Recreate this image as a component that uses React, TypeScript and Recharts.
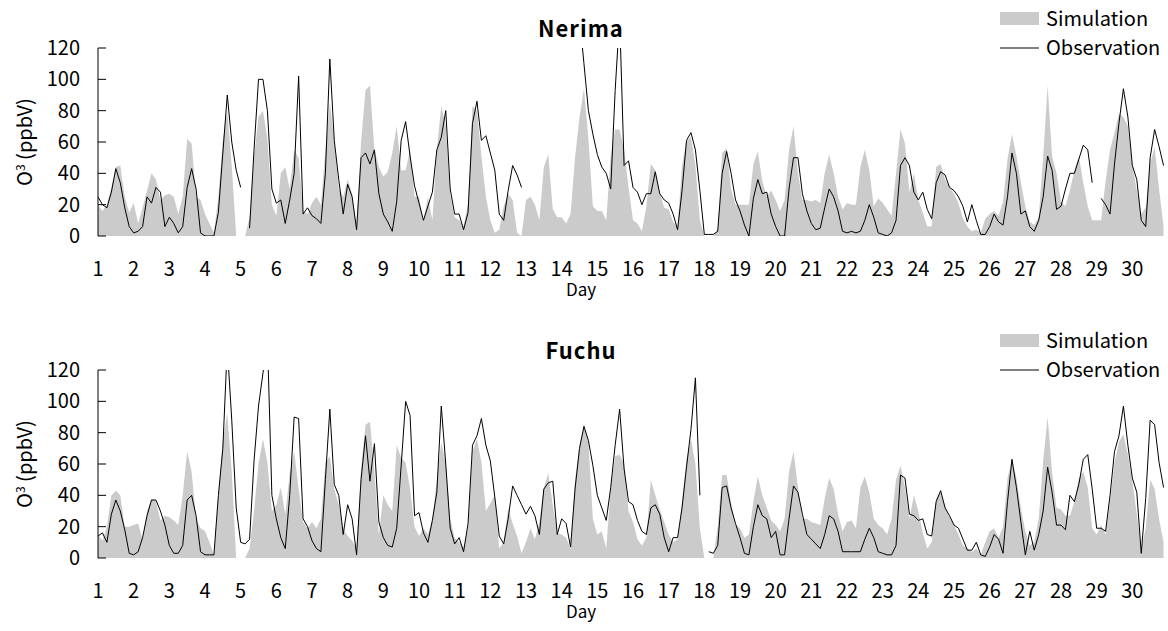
import { Area, ComposedChart, Legend, Line, XAxis, YAxis } from "recharts";

const FONT = '"Noto Sans CJK JP", "Noto Sans", sans-serif';
const SIM_FILL = "#cbcbcb";
const STEP_HOURS = 3; // one value every 3 hours, 8 per day

const days = [1, 2, 3, 4, 5, 6, 7, 8, 9, 10, 11, 12, 13, 14, 15, 16, 17, 18, 19, 20, 21, 22, 23, 24, 25, 26, 27, 28, 29, 30];
const yTicks = [0, 20, 40, 60, 80, 100, 120];
const legendOrder = ["sim", "obs"];

// Nerima, simulated O3 (ppbV)
const nerimaSim = [
  20, 16, 20, 31, 44, 45, 25, 15, // 1
  21, 8, 18, 29, 40, 36, 23, 26,
  27, 25, 14, 25, 62, 59, 25, 23,
  14, 8, 2, 25, 61, 80, 45, 0,
  0, 0, 12, 50, 76, 80, 62, 20, // 5
  13, 40, 44, 30, 55, 50, 16, 14,
  21, 25, 20, 55, 85, 61, 30, 25,
  36, 27, 6, 60, 93, 96, 55, 44,
  38, 41, 53, 70, 42, 42, 55, 25,
  25, 10, 25, 10, 55, 83, 70, 26, // 10
  12, 10, 6, 21, 83, 80, 51, 25,
  10, 2, 4, 19, 27, 23, 2, 0,
  23, 25, 20, 10, 44, 52, 17, 12,
  12, 8, 14, 50, 76, 94, 62, 19,
  16, 16, 10, 51, 68, 68, 55, 31, // 15
  10, 8, 3, 19, 46, 42, 28, 18,
  17, 9, 6, 45, 61, 63, 45, 10,
  0, 0, 0, 4, 53, 56, 30, 20,
  20, 20, 20, 46, 54, 35, 25, 29,
  23, 16, 23, 55, 70, 40, 23, 23, // 20
  22, 23, 21, 40, 52, 40, 25, 17,
  21, 20, 20, 44, 55, 42, 19, 24,
  21, 17, 13, 40, 68, 59, 28, 40,
  23, 15, 6, 6, 44, 46, 36, 31,
  27, 21, 11, 6, 3, 4, 2, 11, // 25
  14, 16, 13, 22, 49, 65, 51, 34,
  19, 9, 7, 12, 50, 96, 51, 40,
  22, 19, 29, 42, 51, 34, 19, 10,
  10, 10, 35, 55, 66, 78, 76, 70,
  45, 29, 14, 18, 46, 57, 30, 6, // 30
];

// Nerima, observed O3 (null = missing)
const nerimaObs = [
  25, 20, 18, 28, 43, 34, 18, 6, // 1
  2, 3, 6, 25, 21, 31, 28, 6,
  12, 8, 2, 6, 31, 43, 30, 2,
  0, 0, 0, 15, 53, 90, 60, 42,
  31, null, 5, 55, 100, 100, 80, 30, // 5
  21, 23, 8, 23, 40, 102, 14, 18,
  13, 11, 8, 40, 113, 61, 36, 14,
  33, 25, 4, 50, 53, 46, 55, 27,
  14, 9, 3, 22, 61, 73, 51, 32,
  21, 10, 19, 28, 55, 63, 80, 30, // 10
  14, 14, 4, 15, 72, 86, 61, 64,
  53, 42, 14, 10, 29, 45, 39, 31,
  null, null, null, null, null, null, null, null,
  null, null, null, null, 140, 110, 80, 65,
  52, 44, 40, 30, 93, 140, 45, 48, // 15
  31, 28, 20, 27, 27, 41, 27, 23,
  21, 14, 4, 29, 61, 66, 55, 29,
  1, 1, 1, 3, 40, 54, 40, 23,
  16, 7, 0, 24, 36, 27, 28, 14,
  6, 0, 0, 30, 50, 50, 27, 16, // 20
  8, 4, 5, 18, 30, 25, 16, 3,
  2, 3, 2, 3, 10, 20, 12, 2,
  1, 0, 2, 10, 45, 50, 45, 28,
  23, 28, 17, 11, 34, 41, 39, 31,
  29, 25, 19, 9, 20, 10, 1, 1, // 25
  6, 14, 9, 7, 25, 53, 40, 14,
  16, 6, 3, 10, 25, 51, 42, 17,
  19, 30, 40, 40, 49, 58, 55, 34,
  null, 24, 20, 14, 46, 72, 94, 76,
  45, 36, 10, 6, 50, 68, 57, 45, // 30
];

// Fuchu, simulated O3 (ppbV)
const fuchuSim = [
  15, 11, 20, 40, 43, 40, 20, 20, // 1
  21, 22, 12, 30, 38, 36, 24, 27,
  26, 24, 21, 40, 68, 55, 25, 19,
  17, 10, 2, 40, 75, 92, 55, 0,
  0, 0, 6, 30, 60, 76, 61, 30, // 5
  34, 45, 28, 54, 68, 44, 23, 19,
  23, 19, 25, 61, 65, 44, 34, 19,
  14, 11, 6, 57, 85, 87, 55, 15,
  40, 34, 30, 72, 64, 61, 44, 20,
  14, 19, 15, 25, 50, 74, 60, 25, // 10
  13, 10, 7, 19, 68, 76, 61, 30,
  35, 40, 6, 10, 32, 22, 14, 3,
  10, 19, 12, 23, 45, 54, 34, 16,
  15, 13, 6, 50, 72, 85, 74, 25,
  15, 17, 6, 45, 65, 66, 60, 30, // 15
  23, 12, 8, 13, 50, 40, 31, 23,
  15, 10, 12, 36, 63, 76, 60, 19,
  0, 0, 0, 20, 53, 53, 35, 21,
  19, 13, 15, 36, 52, 40, 32, 24,
  21, 17, 25, 55, 68, 45, 25, 25, // 20
  23, 22, 21, 38, 51, 44, 28, 17,
  23, 24, 19, 45, 52, 42, 25, 21,
  19, 15, 25, 50, 59, 45, 25, 40,
  30, 16, 6, 10, 38, 42, 33, 26,
  21, 15, 8, 6, 4, 6, 2, 10, // 25
  17, 19, 13, 20, 51, 63, 51, 32,
  17, 8, 10, 25, 62, 90, 55, 32,
  31, 27, 27, 36, 51, 55, 45, 19,
  15, 21, 15, 36, 61, 74, 79, 66,
  49, 28, 6, 19, 50, 44, 25, 10, // 30
];

// Fuchu, observed O3 (null = missing)
const fuchuObs = [
  14, 16, 10, 28, 37, 30, 18, 3, // 1
  2, 4, 13, 27, 37, 37, 30, 21,
  8, 3, 3, 8, 37, 40, 27, 4,
  2, 2, 2, 40, 70, 135, 88, 32,
  10, 9, 12, 62, 97, 118, 140, 40, // 5
  25, 13, 6, 40, 90, 89, 25, 20,
  11, 6, 4, 50, 95, 47, 40, 15,
  34, 25, 2, 50, 78, 49, 73, 23,
  13, 8, 7, 19, 59, 100, 91, 27,
  29, 16, 10, 24, 42, 97, 60, 19, // 10
  9, 13, 4, 22, 72, 78, 89, 72,
  62, 39, 14, 9, 25, 46, 40, 34,
  28, 33, 27, 15, 44, 48, 49, 15,
  25, 22, 7, 44, 70, 84, 75, 59,
  40, 32, 24, 45, 72, 95, 57, 36, // 15
  34, 24, 17, 15, 32, 34, 28, 13,
  4, 13, 13, 32, 58, 82, 115, 40,
  null, 4, 3, 8, 45, 46, 32, 22,
  13, 3, 2, 20, 34, 27, 25, 13,
  17, 2, 2, 25, 46, 42, 28, 15, // 20
  12, 9, 6, 15, 27, 25, 17, 4,
  4, 4, 4, 4, 12, 19, 13, 4,
  3, 2, 2, 8, 53, 51, 28, 27,
  24, 25, 15, 14, 36, 43, 32, 27,
  21, 19, 12, 5, 5, 10, 2, 1, // 25
  7, 15, 12, 3, 36, 63, 45, 23,
  2, 17, 5, 15, 30, 58, 42, 21,
  21, 18, 40, 36, 47, 63, 66, 44,
  19, 19, 17, 40, 68, 78, 97, 72,
  51, 42, 3, 38, 88, 85, 61, 45, // 30
];

const dayTicks = days.map((d) => (d - 1) * 24);

function DayTick(props: any) {
  const { x, y, index } = props;
  return (
    <text x={x} y={y} textAnchor="middle" fontSize={20} fontFamily={FONT} fill="#000">
      {days[index]}
    </text>
  );
}

// ticks point into the plot, labels sit left of the axis
function ValueTick(props: any) {
  const { x, y, payload } = props;
  return (
    <g>
      <line x1={x + 18} x2={x + 26} y1={y} y2={y} stroke="#000" />
      <text x={x} y={y + 7} textAnchor="end" fontSize={20} fontFamily={FONT} fill="#000">
        {payload.value}
      </text>
    </g>
  );
}

function OzoneLabel(props: any) {
  const { viewBox } = props;
  const cx = viewBox.x + 32;
  const cy = viewBox.y + viewBox.height / 2;
  return (
    <text transform={`translate(${cx}, ${cy}) rotate(-90)`} textAnchor="middle" fontSize={20} fontFamily={FONT} fill="#000">
      O<tspan fontSize={12} dy={-7}>3</tspan>
      <tspan dy={7}>{" (ppbV)"}</tspan>
    </text>
  );
}

function DayLabel(props: any) {
  const { viewBox } = props;
  return (
    <text x={581} y={viewBox.y + viewBox.height - 4} textAnchor="middle" fontSize={17} fontFamily={FONT} fill="#000">
      Day
    </text>
  );
}

function SeriesLegend({ payload }: any) {
  const items = [...(payload ?? [])].sort(
    (a: any, b: any) => legendOrder.indexOf(a.dataKey) - legendOrder.indexOf(b.dataKey)
  );
  return (
    <svg width={168} height={60}>
      {items.map((item: any, i: number) => {
        const cy = 18.5 + i * 29;
        return (
          <g key={item.value}>
            {item.dataKey === "sim" ? (
              <rect x={0} y={cy - 6.5} width={39} height={13} fill={SIM_FILL} />
            ) : (
              <line x1={0} x2={39} y1={cy + 0.5} y2={cy + 0.5} stroke="#000" />
            )}
            <text x={46} y={cy + 7.5} fontSize={20} fontFamily={FONT} fill="#000">
              {item.value}
            </text>
          </g>
        );
      })}
    </svg>
  );
}

function Panel({ title, sim, obs, top }: { title: string; sim: number[]; obs: (number | null)[]; top: number }) {
  const rows = sim.map((s, i) => ({ hour: i * STEP_HOURS, sim: s, obs: obs[i] }));
  return (
    <div style={{ position: "absolute", left: 0, top, width: 1168, height: 300 }}>
      <ComposedChart width={1168} height={300} data={rows} margin={{ top: 48, right: 0, bottom: 0, left: 0 }}>
        <XAxis
          type="number"
          dataKey="hour"
          domain={[0, 720]}
          ticks={dayTicks}
          interval={0}
          axisLine={false}
          tickLine={false}
          tickSize={0}
          tickMargin={40}
          height={64}
          tick={<DayTick />}
          label={<DayLabel />}
          allowDataOverflow
        />
        <YAxis
          type="number"
          domain={[0, 120]}
          ticks={yTicks}
          interval={0}
          width={98}
          axisLine={{ stroke: "#000" }}
          tickLine={false}
          tickSize={0}
          tickMargin={18}
          tick={<ValueTick />}
          label={<OzoneLabel />}
          allowDataOverflow
        />
        <Legend
          layout="horizontal"
          verticalAlign="middle"
          align="center"
          content={<SeriesLegend />}
          wrapperStyle={{ position: "absolute", left: 1000, top: 0, width: 168, height: 60, margin: 0, padding: 0 }}
        />
        <Area
          type="linear"
          dataKey="sim"
          name="Simulation"
          fill={SIM_FILL}
          fillOpacity={1}
          stroke="none"
          isAnimationActive={false}
        />
        <Line
          type="linear"
          dataKey="obs"
          name="Observation"
          stroke="#000"
          strokeWidth={1}
          dot={false}
          activeDot={false}
          isAnimationActive={false}
        />
      </ComposedChart>
      <svg width={1168} height={44} style={{ position: "absolute", left: 0, top: 0, pointerEvents: "none" }}>
        <text x={581} y={37} textAnchor="middle" fontSize={22} letterSpacing={1} fontWeight="bold" fontFamily={FONT} fill="#000">
          {title}
        </text>
      </svg>
    </div>
  );
}

export default function App() {
  return (
    <div style={{ position: "absolute", left: 0, top: 0, width: 1168, height: 631, background: "#fff", fontFamily: FONT }}>
      <Panel title="Nerima" sim={nerimaSim} obs={nerimaObs} top={0} />
      <Panel title="Fuchu" sim={fuchuSim} obs={fuchuObs} top={322} />
    </div>
  );
}
